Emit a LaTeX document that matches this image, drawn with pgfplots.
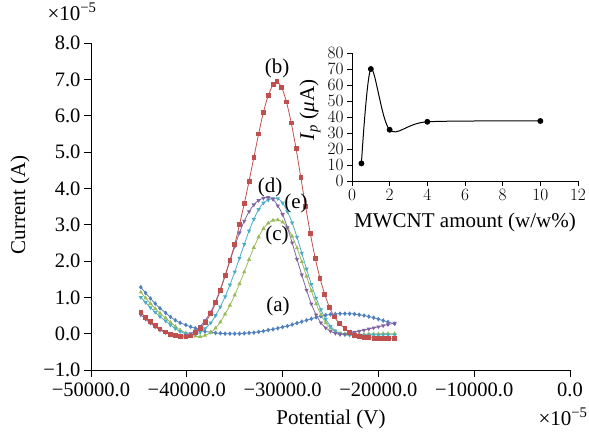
\documentclass[border=0pt]{standalone}
\usepackage{fontspec}
\setmainfont{Liberation Serif}
\usepackage{pgfplots}
\pgfplotsset{compat=1.18}
\definecolor{ca}{HTML}{4F81BD}
\definecolor{cb}{HTML}{C0504D}
\definecolor{cc}{HTML}{9BBB59}
\definecolor{cd}{HTML}{8064A2}
\definecolor{ce}{HTML}{4BACC6}
\newcommand{\tickfont}{\fontsize{20.5}{22}\selectfont}
\newcommand{\labfont}{\fontsize{21}{23}\selectfont}
\newcommand{\insfont}{\fontsize{17}{19}\selectfont}

% series (a)
\pgfplotstableread{
x y
-44800 1.28
-44300 1.12
-43800 0.97
-43300 0.83
-42800 0.70
-42200 0.57
-41700 0.46
-41200 0.37
-40700 0.30
-40100 0.24
-39600 0.19
-39100 0.15
-38600 0.10
-38100 0.06
-37500 0.04
-37000 0.02
-36500 0.01
-36000 0.00
-35500 0.00
-35000 0.00
-34500 0.00
-34000 0.01
-33500 0.02
-33000 0.03
-32500 0.05
-32000 0.07
-31500 0.10
-31000 0.12
-30500 0.15
-30000 0.18
-29500 0.21
-29000 0.25
-28500 0.29
-28000 0.33
-27500 0.37
-27000 0.41
-26500 0.45
-26000 0.48
-25500 0.51
-25000 0.53
-24500 0.54
-24000 0.55
-23500 0.55
-23000 0.55
-22500 0.54
-22000 0.52
-21500 0.50
-21000 0.47
-20500 0.44
-20000 0.40
-19500 0.36
-19000 0.32
-18300 0.27
}\tA
% series (b)
\pgfplotstableread{
x y
-44800 0.59
-44300 0.45
-43800 0.33
-43300 0.22
-42800 0.13
-42200 0.05
-41700 -0.01
-41200 -0.05
-40700 -0.08
-40100 -0.09
-39600 -0.06
-39100 0.03
-38600 0.14
-38100 0.30
-37500 0.55
-37000 0.85
-36500 1.20
-36000 1.60
-35500 2.02
-35000 2.45
-34500 3.00
-34000 3.58
-33500 4.20
-33000 4.85
-32500 5.50
-32000 6.10
-31500 6.55
-31000 6.85
-30600 6.94
-30100 6.78
-29600 6.38
-29100 5.80
-28600 5.10
-28100 4.30
-27600 3.50
-27100 2.75
-26600 2.08
-26100 1.53
-25600 1.08
-25100 0.72
-24600 0.46
-24100 0.29
-23500 0.14
-23000 0.03
-22500 -0.04
-22000 -0.08
-21500 -0.10
-21000 -0.11
-20400 -0.12
-19900 -0.13
-19400 -0.13
-18900 -0.14
-18300 -0.14
}\tB
% series (c)
\pgfplotstableread{
x y
-44800 1.14
-44300 0.98
-43800 0.83
-43300 0.69
-42800 0.56
-42200 0.43
-41700 0.31
-41200 0.20
-40700 0.10
-40100 0.02
-39600 -0.04
-39100 -0.07
-38600 -0.08
-38100 -0.05
-37500 0.03
-37000 0.15
-36500 0.32
-36000 0.54
-35500 0.78
-35000 1.06
-34500 1.37
-34000 1.70
-33500 2.04
-33000 2.37
-32500 2.66
-32000 2.89
-31500 3.04
-31000 3.12
-30500 3.13
-30000 3.07
-29500 2.92
-29000 2.68
-28500 2.36
-28000 1.98
-27500 1.58
-27000 1.18
-26500 0.82
-26000 0.52
-25500 0.30
-25000 0.15
-24500 0.06
-24000 0.01
-23500 -0.01
-23000 -0.02
-22500 -0.02
-22000 -0.02
-21500 -0.02
-21000 -0.01
-20500 -0.01
-20000 -0.01
-19500 0.00
-19000 0.00
-18300 0.00
}\tC
% series (d)
\pgfplotstableread{
x y
-44800 0.52
-44300 0.40
-43800 0.29
-43300 0.19
-42800 0.10
-42200 0.03
-41700 -0.02
-41200 -0.05
-40700 -0.06
-40100 -0.05
-39600 0.00
-39100 0.08
-38600 0.20
-38100 0.36
-37500 0.60
-37000 0.88
-36500 1.22
-36000 1.60
-35500 2.00
-35000 2.40
-34500 2.78
-34000 3.10
-33500 3.36
-33000 3.55
-32500 3.67
-32000 3.73
-31500 3.75
-31000 3.70
-30500 3.52
-30000 3.28
-29500 2.92
-29000 2.50
-28500 2.05
-28000 1.62
-27500 1.20
-27000 0.82
-26500 0.52
-26000 0.30
-25500 0.16
-25000 0.07
-24500 0.01
-24000 -0.02
-23500 -0.01
-23000 0.01
-22500 0.04
-22000 0.07
-21500 0.10
-21000 0.13
-20500 0.16
-20000 0.19
-19500 0.22
-19000 0.25
-18300 0.29
}\tD
% series (e)
\pgfplotstableread{
x y
-44800 1.00
-44300 0.86
-43800 0.72
-43300 0.59
-42800 0.47
-42200 0.35
-41700 0.24
-41200 0.14
-40700 0.06
-40100 0.00
-39600 -0.03
-39100 -0.02
-38600 0.04
-38100 0.14
-37500 0.30
-37000 0.50
-36500 0.74
-36000 1.02
-35500 1.34
-35000 1.70
-34500 2.08
-34000 2.46
-33500 2.83
-33000 3.15
-32500 3.42
-32000 3.60
-31500 3.68
-31000 3.72
-30500 3.72
-30000 3.60
-29500 3.36
-29000 3.05
-28500 2.66
-28000 2.22
-27500 1.78
-27000 1.36
-26500 0.98
-26000 0.66
-25500 0.40
-25000 0.21
-24500 0.08
-24000 0.00
-23500 -0.03
-23000 -0.04
-22500 -0.04
-22000 -0.04
-21500 -0.04
-21000 -0.03
-20500 -0.03
-20000 -0.03
-19500 -0.03
-19000 -0.03
-18300 -0.03
}\tE

\begin{document}
\begin{tikzpicture}
\path[use as bounding box] (0pt,0pt) rectangle (589pt,436pt);
\begin{axis}[
    at={(91pt,66pt)}, anchor=south west,
    scale only axis, width=479pt, height=327pt,
    xmin=-50000, xmax=0, ymin=-1, ymax=8,
    axis x line*=bottom, axis y line*=left,
    axis line style={-, black, line width=0.8pt},
    tick align=outside, major tick length=7pt,
    tick style={black, line width=0.8pt},
    xtick={-50000,-40000,-30000,-20000,-10000,0},
    xticklabels={−50000.0,−40000.0,−30000.0,−20000.0,−10000.0,0.0},
    ytick={-1,0,1,2,3,4,5,6,7,8},
    yticklabels={−1.0,0.0,1.0,2.0,3.0,4.0,5.0,6.0,7.0,8.0},
    scaled ticks=false,
    tick label style={font=\tickfont},
    x tick label style={yshift=-2pt},
    clip=false,
]
\addplot[smooth, ca, line width=0.8pt, mark=diamond*, mark size=1.7pt] table[x=x,y=y] {\tA};
\addplot[smooth, cc, line width=0.8pt, mark=triangle*, mark size=1.7pt] table[x=x,y=y] {\tC};
\addplot[smooth, ce, line width=0.8pt, mark=triangle*, mark size=1.7pt, mark options={rotate=180}] table[x=x,y=y] {\tE};
\addplot[smooth, cd, line width=0.8pt, mark=triangle*, mark size=1.7pt, mark options={rotate=180}] table[x=x,y=y] {\tD};
\addplot[smooth, cb, line width=0.8pt, mark=square*, mark size=1.9pt] table[x=x,y=y] {\tB};
\end{axis}
% curve labels
\node[font=\labfont] at (277pt,368pt) {(b)};
\node[font=\labfont] at (270pt,249pt) {(d)};
\node[font=\labfont] at (296pt,233pt) {(e)};
\node[font=\labfont] at (277pt,201pt) {(c)};
\node[font=\labfont] at (278pt,130pt) {(a)};
% axis titles
\node[font=\labfont, rotate=90] at (20pt,231pt) {Current (A)};
\node[font=\labfont] at (331pt,17pt) {Potential (V)};
\node[font=\labfont, anchor=south west] at (44pt,412pt) {×10\textsuperscript{−5}};
\node[font=\labfont, anchor=south west] at (535pt,7pt) {×10\textsuperscript{−5}};
% inset
\begin{axis}[
    at={(352pt,255pt)}, anchor=south west,
    scale only axis, width=226pt, height=128pt,
    xmin=0, xmax=12, ymin=0, ymax=80,
    axis x line*=bottom, axis y line*=left,
    axis line style={-, black, line width=0.8pt},
    tick align=outside, major tick length=5pt,
    tick style={black, line width=0.8pt},
    xtick={0,2,...,12}, ytick={0,10,...,80},
    tick label style={font=\insfont},
    clip=false,
]
\addplot[smooth, black, line width=1pt, mark=*, mark size=2.4pt] coordinates {(0.5,11)(1,70)(2,32)(4,37)(10,37.5)};
\end{axis}
\node[font=\labfont, rotate=90] at (310pt,326pt) {\textit{I}\textsubscript{\textit{p}} (\textit{μ}A)};
\node[font=\labfont] at (465pt,214pt) {MWCNT amount (w/w\%)};
\end{tikzpicture}
\end{document}
